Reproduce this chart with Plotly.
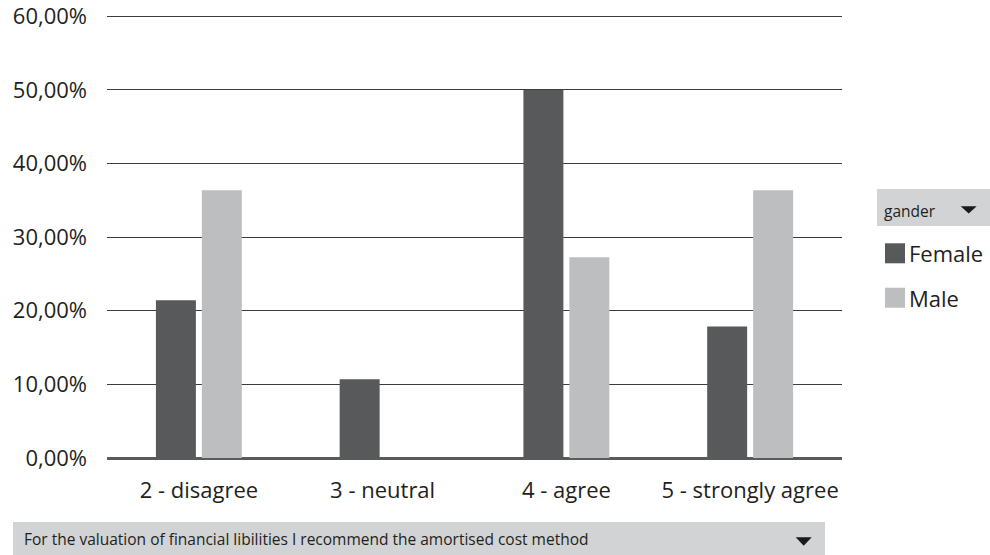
import plotly.graph_objects as go

# Survey answers and share of respondents per gender
categories = ["2 - disagree", "3 - neutral", "4 - agree", "5 - strongly agree"]
series_names = ["Female", "Male"]
female_share = [0.2143, 0.1071, 0.5000, 0.1786]
male_share = [0.3636, 0.0, 0.2727, 0.3636]
series_values = [female_share, male_share]
series_colors = ["#58595b", "#bcbec0"]

y_ticks = [0, 0.1, 0.2, 0.3, 0.4, 0.5, 0.6]

filter_label = "gander"
field_label = "For the valuation of financial libilities I recommend the amortised cost method"

FONT = "Open Sans"
TEXT = "#231f20"
PANEL = "#d1d3d4"

W, H = 990, 555
Y_MAX = 0.61                       # a little headroom so the 60 % gridline is drawn
L, R, B = 107, 148, 97
PH = round(442 * Y_MAX / 0.6)
T = H - B - PH
PW = W - L - R


def px(x):
    """Page pixel x -> paper fraction."""
    return (x - L) / PW


def py(y):
    """Page pixel y -> paper fraction."""
    return (H - B - y) / PH


fig = go.Figure()
for name, vals, col in zip(series_names, series_values, series_colors):
    fig.add_trace(go.Bar(
        x=categories, y=vals, name=name,
        marker=dict(color=col, line=dict(width=0)),
        showlegend=False,
        hoverinfo="x+y+name",
    ))

fig.update_layout(
    width=W, height=H,
    margin=dict(l=L, r=R, t=T, b=B, autoexpand=False),
    paper_bgcolor="white", plot_bgcolor="white",
    barmode="group", bargap=0.5, bargroupgap=0.13,
    separators=",.",
    font=dict(family=FONT, color=TEXT, size=22),
)

fig.update_yaxes(
    range=[0, Y_MAX], tickvals=y_ticks, tickformat=".2%",
    showgrid=True, gridcolor="#3d3d3d", gridwidth=1.2,
    zeroline=True, zerolinecolor="#5a5a5a", zerolinewidth=2.5,
    showline=False, ticks="", ticklabelstandoff=19,
    ticklabeloverflow="allow",
    tickfont=dict(family=FONT, size=22, color=TEXT),
    automargin=False, fixedrange=True,
)
fig.update_xaxes(
    showgrid=False, showline=False, ticks="",
    ticklabelstandoff=17, ticklabeloverflow="allow",
    tickfont=dict(family=FONT, size=22, color=TEXT),
    automargin=False, fixedrange=True,
)

# Field selector strip below the chart
fig.add_shape(type="rect", xref="paper", yref="paper",
              x0=px(13), x1=px(825), y0=py(555), y1=py(522),
              fillcolor=PANEL, line=dict(width=0), layer="below")
fig.add_annotation(xref="paper", yref="paper",
                   x=px(22), y=py(539),
                   xanchor="left", yanchor="middle", showarrow=False,
                   text=field_label,
                   font=dict(family=FONT, size=15.5, color=TEXT))
fig.add_shape(type="path", xref="paper", yref="paper",
              path=f"M {px(795.7)} {py(537.3)} L {px(811.7)} {py(537.3)} "
                   f"L {px(803.7)} {py(545.7)} Z",
              fillcolor="#1a1a1a", line=dict(width=0))

# Legend panel on the right
fig.add_shape(type="rect", xref="paper", yref="paper",
              x0=px(877), x1=px(990), y0=py(226), y1=py(189),
              fillcolor=PANEL, line=dict(width=0), layer="below")
fig.add_annotation(xref="paper", yref="paper",
                   x=px(882), y=py(211),
                   xanchor="left", yanchor="middle", showarrow=False,
                   text=filter_label,
                   font=dict(family=FONT, size=15.5, color=TEXT))
fig.add_shape(type="path", xref="paper", yref="paper",
              path=f"M {px(960.7)} {py(206.3)} L {px(976.7)} {py(206.3)} "
                   f"L {px(968.7)} {py(213.5)} Z",
              fillcolor="#1a1a1a", line=dict(width=0))

for i, (name, col) in enumerate(zip(series_names, series_colors)):
    cy = 253.3 + 44.4 * i
    fig.add_shape(type="rect", xref="paper", yref="paper",
                  x0=px(885), x1=px(905), y0=py(cy + 10), y1=py(cy - 10),
                  fillcolor=col, line=dict(width=0))
    fig.add_annotation(xref="paper", yref="paper",
                       x=px(907), y=py(cy),
                       xanchor="left", yanchor="middle", showarrow=False,
                       text=name,
                       font=dict(family=FONT, size=22, color=TEXT))

fig.write_html("out.html")
